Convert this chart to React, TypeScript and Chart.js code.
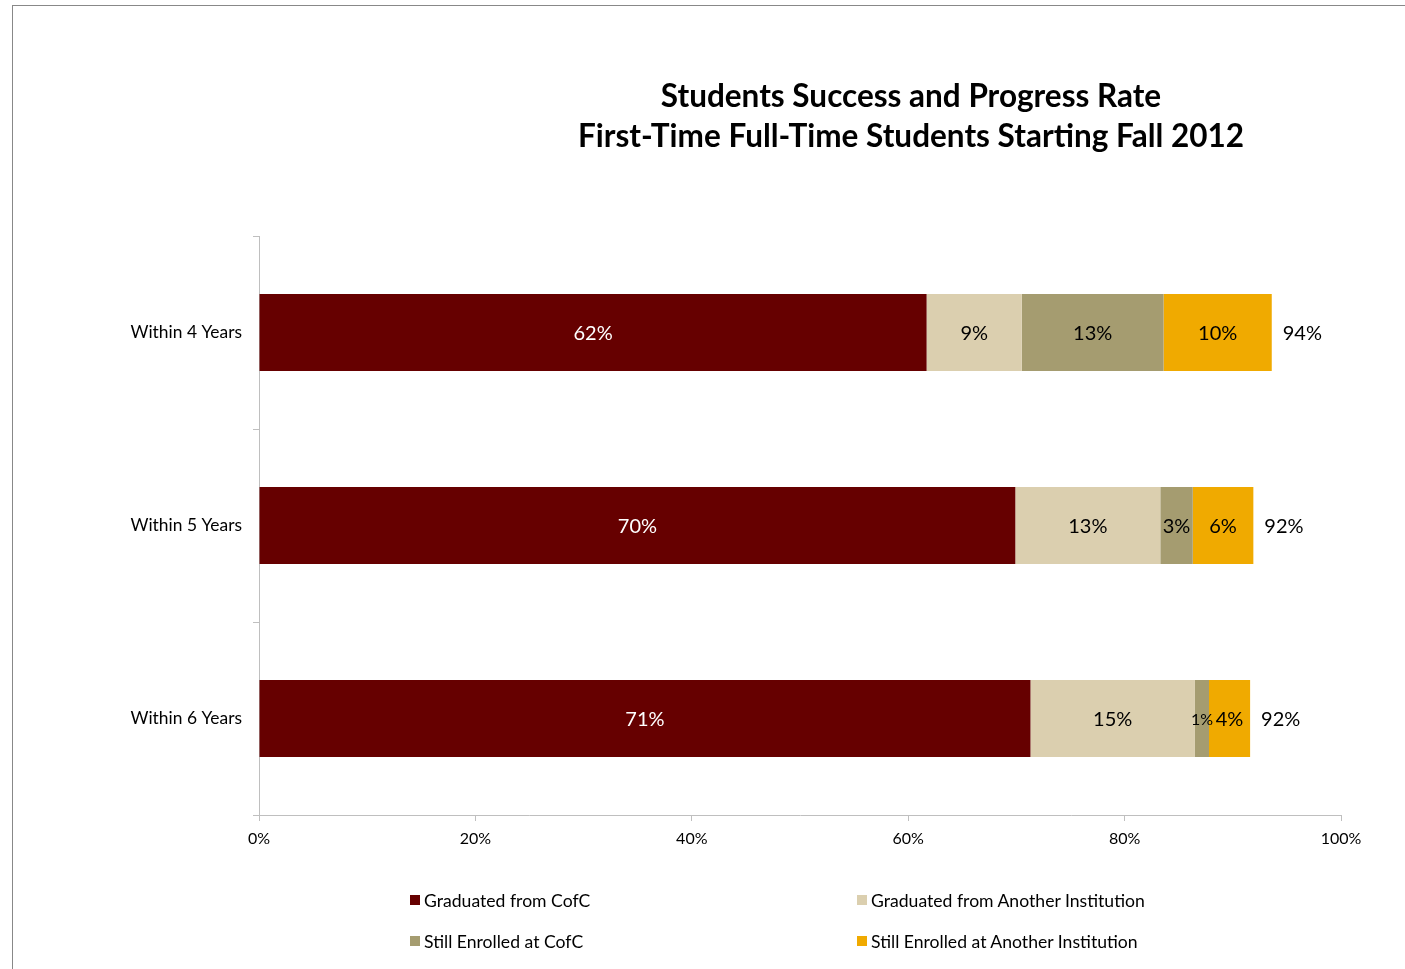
import React, { useEffect, useRef } from "react";
import { Chart, registerables } from "chart.js";

Chart.register(...registerables);

const categories = ["Within 4 Years", "Within 5 Years", "Within 6 Years"];
const seriesNames = [
  "Graduated from CofC",
  "Graduated from Another Institution",
  "Still Enrolled at CofC",
  "Still Enrolled at Another Institution",
];
const gradCofC = [61.7, 69.9, 71.3];
const gradOther = [8.8, 13.4, 15.2];
const enrolledCofC = [13.1, 3.0, 1.3];
const enrolledOther = [10.0, 5.6, 3.8];
const seriesColors = ["#660000", "#DBCFAF", "#A59C70", "#F0AA00"];
const labelColors = ["#FFFFFF", "#000000", "#000000", "#000000"];
const titleLines = [
  "Students Success and Progress Rate",
  "First-Time Full-Time Students Starting Fall 2012",
];
const xMin = 0;
const xMax = 100;
const xStep = 20;

const FONT = "Lato, 'Open Sans', sans-serif";

const valueLabelPlugin = {
  id: "valueLabels",
  afterDatasetsDraw(chart: any) {
    const ctx = chart.ctx;
    ctx.save();
    ctx.textBaseline = "middle";
    const nData = chart.data.labels.length;
    chart.data.datasets.forEach((ds: any, di: number) => {
      const meta = chart.getDatasetMeta(di);
      meta.data.forEach((el: any, i: number) => {
        const v = ds.data[i];
        const txt = Math.round(v) + "%";
        let cx = (el.x + el.base) / 2;
        const w = Math.abs(el.x - el.base);
        let size = 20;
        ctx.font = `${size}px ${FONT}`;
        if (ctx.measureText(txt).width > w + 6) {
          size = 16;
          ctx.font = `${size}px ${FONT}`;
        }
        ctx.fillStyle = labelColors[di];
        ctx.textAlign = "center";
        ctx.fillText(txt, cx, el.y + 1);
      });
    });
    // totals
    const lastMeta = chart.getDatasetMeta(chart.data.datasets.length - 1);
    for (let i = 0; i < nData; i++) {
      let sum = 0;
      chart.data.datasets.forEach((ds: any) => (sum += ds.data[i]));
      const el = lastMeta.data[i];
      ctx.font = `20px ${FONT}`;
      ctx.fillStyle = "#000000";
      ctx.textAlign = "left";
      ctx.fillText(Math.round(sum) + "%", el.x + 11, el.y + 1);
    }
    ctx.restore();
  },
};

const titlePlugin = {
  id: "customTitle",
  afterDraw(chart: any) {
    const ctx = chart.ctx;
    ctx.save();
    ctx.font = `bold 31.5px ${FONT}`;
    ctx.fillStyle = "#000000";
    ctx.textAlign = "center";
    ctx.textBaseline = "middle";
    titleLines.forEach((t, i) => ctx.fillText(t, 911, 97 + i * 40));
    ctx.restore();
  },
};

function ChartCanvas() {
  const ref = useRef<HTMLCanvasElement | null>(null);
  useEffect(() => {
    if (!ref.current) return;
    const seriesData = [gradCofC, gradOther, enrolledCofC, enrolledOther];
    const chart = new Chart(ref.current, {
      type: "bar",
      data: {
        labels: categories,
        datasets: seriesNames.map((name, i) => ({
          label: name,
          data: seriesData[i],
          backgroundColor: seriesColors[i],
          borderWidth: 0,
          barPercentage: 0.4,
          categoryPercentage: 1,
        })),
      },
      options: {
        indexAxis: "y",
        responsive: false,
        animation: false,
        devicePixelRatio: 1,
        layout: { padding: { top: 236, right: 64, bottom: 0, left: 0 } },
        plugins: {
          legend: { display: false },
          title: { display: false },
          tooltip: { enabled: false },
        },
        scales: {
          x: {
            stacked: true,
            min: xMin,
            max: xMax,
            afterFit: (s: any) => {
              s.height = 154;
            },
            ticks: {
              stepSize: xStep,
              callback: (v: any) => v + "%",
              font: { family: FONT, size: 16 },
              color: "#000000",
              padding: 8,
              maxRotation: 0,
            },
            grid: {
              drawOnChartArea: false,
              drawTicks: true,
              tickLength: 6,
              color: "#BFBFBF",
            },
            border: { color: "#BFBFBF", width: 1 },
          },
          y: {
            stacked: true,
            afterFit: (s: any) => {
              s.width = 259;
            },
            ticks: {
              font: { family: FONT, size: 17.4 },
              color: "#000000",
              padding: 11,
            },
            grid: {
              offset: true,
              drawOnChartArea: false,
              drawTicks: true,
              tickLength: 6,
              color: "#BFBFBF",
            },
            border: { color: "#BFBFBF", width: 1 },
          },
        },
      },
      plugins: [valueLabelPlugin, titlePlugin],
    });
    return () => chart.destroy();
  }, []);
  return (
    <canvas
      ref={ref}
      width={1405}
      height={969}
      style={{ position: "absolute", left: 0, top: 0, width: 1405, height: 969 }}
    />
  );
}

const legendPos = [
  { x: 410, y: 900 },
  { x: 857, y: 900 },
  { x: 410, y: 941 },
  { x: 857, y: 941 },
];

export default function App() {
  return (
    <div
      style={{
        position: "absolute",
        left: 0,
        top: 0,
        width: 1405,
        height: 969,
        overflow: "hidden",
        background: "#ffffff",
      }}
    >
      <div
        style={{
          position: "absolute",
          left: 12,
          top: 5,
          width: 1500,
          height: 1200,
          borderTop: "1px solid #888888",
          borderLeft: "1px solid #888888",
        }}
      />
      <ChartCanvas />
      {seriesNames.map((name, i) => (
        <div
          key={name}
          style={{
            position: "absolute",
            left: legendPos[i].x,
            top: legendPos[i].y - 11,
            height: 22,
            display: "flex",
            alignItems: "center",
            fontFamily: FONT,
            fontSize: 17.6,
            color: "#000000",
            whiteSpace: "nowrap",
          }}
        >
          <span
            style={{
              display: "inline-block",
              width: 10,
              height: 10,
              background: seriesColors[i],
              marginRight: 4,
            }}
          />
          {name}
        </div>
      ))}
    </div>
  );
}
